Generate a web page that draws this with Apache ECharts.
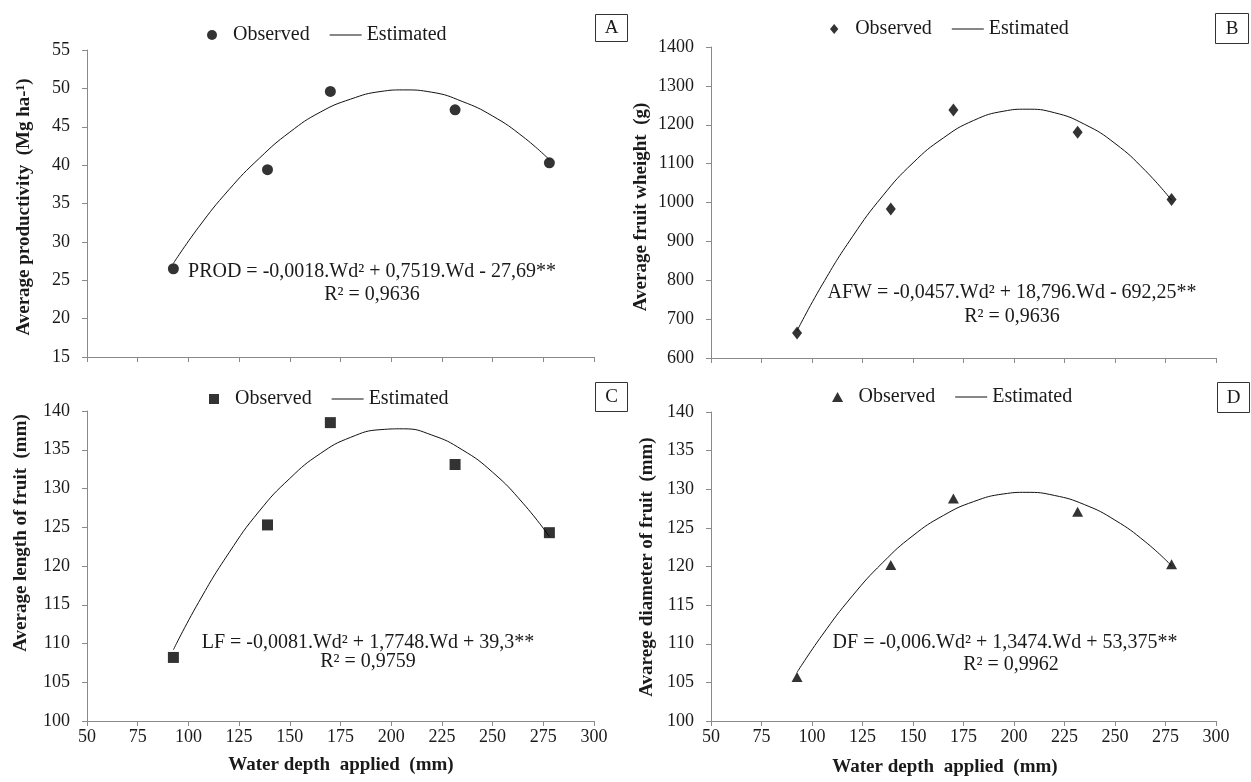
<!DOCTYPE html>
<html>
<head>
<meta charset="utf-8">
<title>Water depth applied</title>
<script src="https://cdn.jsdelivr.net/npm/echarts@6/dist/echarts.min.js"></script>
<style>
  html, body { margin: 0; padding: 0; background: #fff; }
  #chart { width: 1251px; height: 782px; }
</style>
</head>
<body>
<div id="chart"></div>
<script>
// water depth applied (mm), shared by all four panels
const depth = [92.6, 139, 170, 231.5, 278];
const curveX = [92.6, 105, 120, 135, 150, 165, 180, 195, 206, 220, 235, 250, 265, 278];

// A - average productivity (Mg ha-1)
const prodObs = [26.5, 39.4, 49.6, 47.2, 40.3];
const prodEst = [27.2, 31.9, 36.8, 40.9, 44.3, 46.9, 48.6, 49.6, 49.8, 49.5, 48.3, 46.4, 43.7, 40.7];
// B - average fruit weight (g)
const afwObs = [664, 983, 1238, 1181, 1008];
const afwEst = [670, 788, 912, 1017, 1102, 1166, 1211, 1235, 1240, 1231, 1201, 1152, 1082, 1006];
// C - average length of fruit (mm)
const lfObs = [108.2, 125.3, 138.5, 133.1, 124.3];
const lfEst = [109.2, 115.3, 121.7, 127.1, 131.3, 134.5, 136.6, 137.6, 137.7, 136.9, 135.0, 132.1, 128.1, 123.8];
// D - average diameter of fruit (mm)
const dfObs = [105.7, 120.2, 128.8, 127.1, 120.3];
const dfEst = [106.3, 111.1, 116.2, 120.5, 124.0, 126.6, 128.4, 129.4, 129.6, 129.2, 128.0, 126.0, 123.2, 120.1];

const xTicks = { min: 50, max: 300, interval: 25 };
const yRanges = [
  { min: 15, max: 55, interval: 5 },
  { min: 600, max: 1400, interval: 100 },
  { min: 100, max: 140, interval: 5 },
  { min: 100, max: 140, interval: 5 },
];

const FONT = 'Liberation Serif';
const AXIS_GREY = '#8a8a8a';
const TEXT = '#1a1a1a';

const grids = [
  { left: 87, top: 50, width: 507, height: 307 },
  { left: 711, top: 47, width: 505, height: 311 },
  { left: 87, top: 411, width: 507, height: 310 },
  { left: 711, top: 412, width: 505, height: 309 },
];

const pair = (xs, ys) => xs.map((x, i) => [x, ys[i]]);

const xAxis = grids.map((g, i) => ({
  type: 'value',
  gridIndex: i,
  ...xTicks,
  axisLine: { lineStyle: { color: AXIS_GREY, width: 1 } },
  axisTick: { show: true, length: 5, lineStyle: { color: AXIS_GREY } },
  axisLabel: {
    show: i >= 2, // top panels have no tick labels
    margin: 7,
    color: TEXT,
    fontFamily: FONT,
    fontSize: 18,
  },
  splitLine: { show: false },
}));

const yAxis = grids.map((g, i) => ({
  type: 'value',
  gridIndex: i,
  ...yRanges[i],
  axisLine: { show: true, lineStyle: { color: AXIS_GREY, width: 1 } },
  axisTick: { show: true, length: 5, lineStyle: { color: AXIS_GREY } },
  axisLabel: {
    margin: 17,
    color: TEXT,
    fontFamily: FONT,
    fontSize: 18,
    formatter: (v) => String(v), // no thousands separator
  },
  splitLine: { show: false },
}));

// legend icons as paths so they keep their shape
const ICON_CIRCLE = 'path://M5,0A5,5,0,1,1,5,10A5,5,0,1,1,5,0Z';
const ICON_DIAMOND = 'path://M5,0L10,6L5,12L0,6Z';
const ICON_SQUARE = 'path://M0,0H10V10H0Z';
const ICON_TRIANGLE = 'path://M5,0L10,9L0,9Z';
const ICON_LINE = 'path://M0,0H32V1H0Z';

const panels = [
  { obs: prodObs, est: prodEst, symbol: 'circle', size: 11, icon: ICON_CIRCLE },
  { obs: afwObs, est: afwEst, symbol: 'diamond', size: [10, 13], icon: ICON_DIAMOND },
  { obs: lfObs, est: lfEst, symbol: 'rect', size: [11, 11], icon: ICON_SQUARE },
  { obs: dfObs, est: dfEst, symbol: 'triangle', size: [11, 10], icon: ICON_TRIANGLE },
];

const series = [];
panels.forEach((p, i) => {
  series.push({
    name: 'Estimated',
    type: 'line',
    xAxisIndex: i,
    yAxisIndex: i,
    data: pair(curveX, p.est),
    smooth: true,
    symbol: 'none',
    itemStyle: { color: '#111' },
    lineStyle: { color: '#111', width: 1 },
    z: 2,
  });
  series.push({
    name: 'Observed',
    type: 'scatter',
    xAxisIndex: i,
    yAxisIndex: i,
    data: pair(depth, p.obs),
    symbol: p.symbol,
    symbolSize: p.size,
    itemStyle: { color: '#000' },
    z: 3,
  });
});

// legend per panel
const legendPos = [
  { left: 207, top: 25 },
  { left: 830, top: 19 },
  { left: 209, top: 389 },
  { left: 832, top: 387 },
];
const legend = legendPos.map((pos, i) => ({
  ...pos,
  orient: 'horizontal',
  padding: 0,
  itemWidth: 32,
  itemHeight: 10,
  itemGap: 20,
  symbolKeepAspect: true,
  selectedMode: false,
  textStyle: { fontFamily: FONT, fontSize: 20, color: TEXT },
  data: [
    { name: 'Observed', icon: panels[i].icon, itemStyle: { color: '#000' } },
    { name: 'Estimated', icon: ICON_LINE, itemStyle: { color: '#111' } },
  ],
}));

// texts: axis titles, equations, panel letters
const txt = (x, y, text, opts = {}) => ({
  type: 'text',
  x,
  y,
  rotation: opts.rotation || 0,
  style: {
    text,
    textAlign: 'center',
    textVerticalAlign: 'middle',
    fill: TEXT,
    font: (opts.bold ? 'bold ' : '') + (opts.size || 20) + 'px "' + FONT + '"',
  },
});
const vert = { rotation: Math.PI / 2, bold: true, size: 19 };

const boxes = [
  { x: 595, y: 14, w: 32, h: 27, label: 'A' },
  { x: 1215, y: 13, w: 33, h: 30, label: 'B' },
  { x: 595, y: 382, w: 32, h: 29, label: 'C' },
  { x: 1217, y: 382, w: 32, h: 30, label: 'D' },
];

const graphic = [
  txt(24, 207, 'Average productivity  (Mg ha-¹)', vert),
  txt(641, 207, 'Average fruit wheight  (g)', vert),
  txt(21, 533, 'Average length of fruit  (mm)', vert),
  txt(647, 567, 'Avarege diameter of fruit  (mm)', vert),
  txt(341, 765, 'Water depth  applied  (mm)', { bold: true, size: 19 }),
  txt(945, 767, 'Water depth  applied  (mm)', { bold: true, size: 19 }),

  txt(372, 272, 'PROD = -0,0018.Wd² + 0,7519.Wd - 27,69**'),
  txt(372, 295, 'R² = 0,9636'),
  txt(1012, 293, 'AFW = -0,0457.Wd² + 18,796.Wd - 692,25**'),
  txt(1012, 317, 'R² = 0,9636'),
  txt(368, 643, 'LF = -0,0081.Wd² + 1,7748.Wd + 39,3**'),
  txt(368, 662, 'R² = 0,9759'),
  txt(1005, 643, 'DF = -0,006.Wd² + 1,3474.Wd + 53,375**'),
  txt(1011, 665, 'R² = 0,9962'),
];
boxes.forEach((b) => {
  graphic.push({
    type: 'rect',
    shape: { x: b.x + 0.5, y: b.y + 0.5, width: b.w, height: b.h },
    style: { fill: '#fff', stroke: '#333', lineWidth: 1 },
  });
  graphic.push(txt(b.x + b.w / 2 + 0.5, b.y + b.h / 2 + 1, b.label, { size: 19 }));
});

const chart = echarts.init(document.getElementById('chart'), null, { renderer: 'canvas' });
chart.setOption({
  animation: false,
  backgroundColor: '#fff',
  grid: grids,
  xAxis,
  yAxis,
  legend,
  series,
  graphic,
});
</script>
</body>
</html>
